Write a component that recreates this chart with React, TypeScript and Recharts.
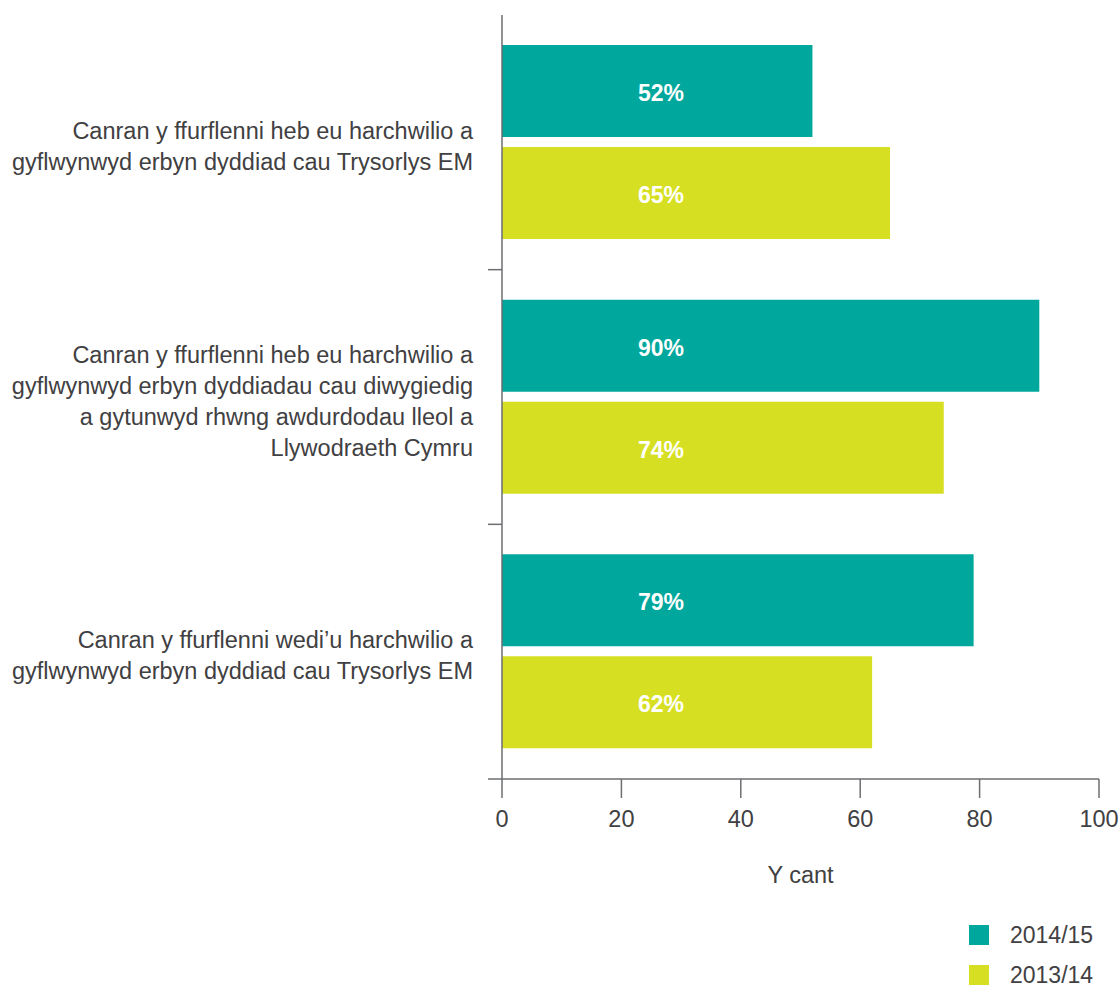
import React from 'react';
import { BarChart, Bar, XAxis, YAxis, Legend, LabelList } from 'recharts';

const categoryLines: string[][] = [
  ['Canran y ffurflenni heb eu harchwilio a', 'gyflwynwyd erbyn dyddiad cau Trysorlys EM'],
  [
    'Canran y ffurflenni heb eu harchwilio a',
    'gyflwynwyd erbyn dyddiadau cau diwygiedig',
    'a gytunwyd rhwng awdurdodau lleol a',
    'Llywodraeth Cymru',
  ],
  ['Canran y ffurflenni wedi’u harchwilio a', 'gyflwynwyd erbyn dyddiad cau Trysorlys EM'],
];
const values2014 = [52, 90, 79];
const values2013 = [65, 74, 62];
const xTicks = [0, 20, 40, 60, 80, 100];
const seriesNames = ['2014/15', '2013/14'];

const TEAL = '#00A79D';
const LIME = '#D7DF23';
const TEXT = '#414042';
const AXIS = '#6d6e71';
const FONT = '"Liberation Sans", Arial, sans-serif';

const W = 1119;
const H = 989;
const MARGIN = { top: 15, right: 20, left: 0, bottom: 29 };
const Y_AXIS_W = 502;
const X_AXIS_H = 120;
const LEGEND_H = 61;
const PLOT_H = H - MARGIN.top - MARGIN.bottom - X_AXIS_H - LEGEND_H;
const BAND = PLOT_H / categoryLines.length;

const data = categoryLines.map((lines, i) => ({
  cat: lines.join('\n'),
  v2014: values2014[i],
  v2013: values2013[i],
}));

const YTick = (props: any) => {
  const { x, y, payload } = props;
  const lines = String(payload.value).split('\n');
  const lh = 31;
  const startY = y + 4 - ((lines.length - 1) * lh) / 2;
  const axisX = Y_AXIS_W;
  return (
    <g>
      <line x1={axisX - 14} x2={axisX} y1={y + BAND / 2} y2={y + BAND / 2} stroke={AXIS} strokeWidth={1.5} />
      <text x={x} y={startY} textAnchor="end" fill={TEXT} fontSize={23.5} fontFamily={FONT} dominantBaseline="central">
        {lines.map((l, i) => (
          <tspan key={i} x={x} y={startY + i * lh} dominantBaseline="central">
            {l}
          </tspan>
        ))}
      </text>
    </g>
  );
};

const BarLabel = (props: any) => {
  const { x, y, height, value } = props;
  return (
    <text
      x={x + 159}
      y={y + height / 2 + 2}
      textAnchor="middle"
      dominantBaseline="central"
      fill="#ffffff"
      fontWeight="bold"
      fontSize={23}
      fontFamily={FONT}
    >
      {`${value}%`}
    </text>
  );
};

const renderLegend = () => {
  const colors = [TEAL, LIME];
  return (
    <div style={{ fontFamily: FONT, color: TEXT, fontSize: 23 }}>
      {seriesNames.map((name, i) => (
        <div key={name} style={{ display: 'flex', alignItems: 'center', height: 20, marginBottom: i === 0 ? 20 : 0 }}>
          <div style={{ width: 20, height: 20, background: colors[i], flex: '0 0 20px' }} />
          <span style={{ marginLeft: 21, lineHeight: '20px', whiteSpace: 'nowrap' }}>{name}</span>
        </div>
      ))}
    </div>
  );
};

export default function App() {
  return (
    <div style={{ position: 'absolute', left: 0, top: 0, width: W, height: H, fontFamily: FONT, background: '#fff' }}>
      <BarChart
        width={W}
        height={H}
        data={data}
        layout="vertical"
        margin={MARGIN}
        barSize={92}
        barGap={10}
      >
        <XAxis
          type="number"
          domain={[0, 100]}
          ticks={xTicks}
          interval={0}
          height={X_AXIS_H}
          axisLine={{ stroke: AXIS, strokeWidth: 1.5 }}
          tickLine={{ stroke: AXIS, strokeWidth: 1.5 }}
          tickSize={19}
          tickMargin={12}
          tick={{ fill: TEXT, fontSize: 23.5, fontFamily: FONT }}
          label={{ value: 'Y cant', position: 'insideBottom', offset: 16, fill: TEXT, fontSize: 23.5, fontFamily: FONT }}
        />
        <YAxis
          type="category"
          dataKey="cat"
          width={Y_AXIS_W}
          axisLine={{ stroke: AXIS, strokeWidth: 1.5 }}
          tickLine={false}
          tickSize={14}
          tickMargin={15}
          interval={0}
          tick={<YTick />}
        />
        <Legend
          content={renderLegend}
          wrapperStyle={{ position: 'absolute', left: 969, top: 925, width: 150, height: LEGEND_H }}
        />
        <Bar dataKey="v2014" name={seriesNames[0]} fill={TEAL} isAnimationActive={false}>
          <LabelList dataKey="v2014" content={<BarLabel />} />
        </Bar>
        <Bar dataKey="v2013" name={seriesNames[1]} fill={LIME} isAnimationActive={false}>
          <LabelList dataKey="v2013" content={<BarLabel />} />
        </Bar>
      </BarChart>
    </div>
  );
}
